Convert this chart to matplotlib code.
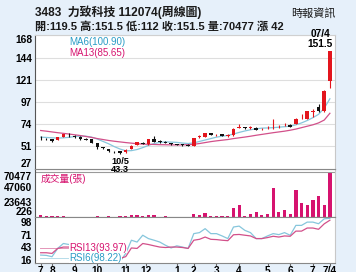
import numpy as np
import matplotlib.pyplot as plt
from matplotlib.lines import Line2D

plt.rcParams['font.family'] = ['Liberation Sans', 'Noto Sans CJK TC', 'DejaVu Sans']

# weekly candles, oldest first, last one is 07/4
opens = [59.5, 58.5, 58.5, 57.2, 61.0, 62.8, 61.5, 61.0, 58.5, 58.2,
         54.0, 49.8, 48.2, 45.2, 45.5, 44.5, 48.2, 52.2, 54.8, 53.0,
         58.5, 56.0, 55.8, 54.2, 52.7, 53.0, 52.6, 51.7, 61.0, 61.0,
         64.4, 62.3, 63.4, 62.0, 62.6, 70.5, 71.0, 70.4, 70.6, 68.6,
         69.8, 71.8, 71.0, 72.8, 73.7, 74.4, 80.3, 79.8, 87.5, 91.9,
         88.0, 119.5]
highs = [62.0, 59.5, 59.0, 61.0, 64.0, 65.0, 62.5, 61.5, 59.5, 58.5,
         54.5, 50.5, 48.5, 45.8, 46.0, 47.8, 52.2, 55.5, 55.5, 59.0,
         61.2, 57.0, 56.3, 54.6, 53.2, 53.4, 53.0, 59.6, 63.0, 65.0,
         65.0, 63.5, 63.8, 64.0, 70.0, 74.0, 71.5, 72.0, 71.0, 70.0,
         72.0, 80.0, 73.0, 75.5, 74.0, 81.0, 85.0, 88.5, 90.0, 95.0,
         110.0, 151.5]
lows = [58.0, 57.5, 55.5, 57.0, 60.5, 61.0, 60.0, 57.8, 57.0, 54.0,
        48.0, 48.5, 45.0, 44.0, 43.3, 44.0, 47.8, 51.8, 53.0, 52.5,
        55.3, 54.8, 54.0, 52.6, 52.0, 51.4, 51.2, 51.3, 60.0, 60.5,
        62.3, 61.8, 61.2, 61.0, 62.2, 70.0, 69.5, 69.5, 67.8, 68.0,
        69.0, 69.5, 70.5, 72.0, 71.2, 74.0, 79.5, 79.5, 82.0, 87.0,
        87.5, 112.0]
closes = [59.2, 58.2, 56.5, 60.6, 63.4, 62.4, 61.0, 58.2, 58.0, 54.8,
          49.7, 49.4, 45.5, 44.8, 44.2, 47.2, 51.7, 55.0, 53.4, 58.5,
          55.8, 55.7, 54.5, 53.0, 52.4, 51.8, 51.6, 59.2, 61.2, 64.4,
          62.8, 62.8, 61.6, 62.3, 69.5, 71.2, 70.0, 70.7, 68.2, 69.0,
          70.1, 72.2, 71.5, 73.1, 71.6, 79.8, 80.7, 87.8, 88.0, 87.8,
          109.5, 151.5]
volume = [2600, 1000, 1000, 2000, 2000, 500, 500, 500, 500, 500,
          1500, 500, 1000, 500, 1000, 1500, 2600, 3100, 1000, 2600,
          3600, 500, 1000, 500, 500, 500, 600, 4200, 3100, 6700,
          1500, 1100, 1500, 1500, 14400, 18600, 1100, 4200, 7700, 3100,
          4200, 45400, 8200, 11300, 5100, 42900, 22100, 18600, 26300, 32500,
          18600, 70477]
ma6 = [60.5, 60.2, 59.8, 59.5, 59.8, 60.3, 61.2, 61.6, 61.5, 60.5,
       58.5, 56.0, 53.5, 50.5, 48.0, 46.2, 46.3, 47.5, 49.5, 51.8,
       53.8, 55.0, 55.5, 55.3, 55.0, 54.3, 53.8, 54.5, 56.0, 57.5,
       59.0, 60.5, 61.5, 62.3, 63.8, 65.5, 67.0, 68.3, 69.3, 70.0,
       70.2, 70.5, 71.0, 71.5, 72.0, 73.5, 75.5, 78.0, 81.0, 84.5,
       91.0, 100.90]
ma13 = [67.5, 66.8, 66.0, 65.2, 64.5, 63.8, 63.0, 62.2, 61.2, 60.2,
        59.0, 58.0, 57.0, 56.2, 55.5, 54.8, 54.2, 53.6, 53.2, 53.0,
        52.8, 52.6, 52.5, 52.4, 52.3, 52.4, 52.6, 53.0, 53.8, 54.8,
        55.8, 56.6, 57.3, 58.0, 59.0, 59.8, 60.6, 61.5, 62.5, 63.4,
        64.3, 65.2, 66.0, 66.8, 67.8, 69.0, 70.5, 72.0, 73.5, 75.5,
        78.5, 85.65]
rsi6 = [17.4, 16.7, 13.8, 32.0, 42.8, 40.6, 38.0, 30.0, 33.0, 25.0,
        18.0, 16.0, 12.0, 10.0, 3.0, 21.0, 50.0, 46.0, 61.0, 53.6,
        50.0, 46.0, 39.0, 33.0, 37.7, 35.0, 32.0, 64.5, 66.7, 75.4,
        64.5, 64.5, 59.4, 53.6, 79.0, 81.0, 71.7, 66.7, 53.6, 53.6,
        59.4, 64.5, 62.3, 66.7, 60.9, 82.6, 82.6, 89.8, 89.8, 86.2,
        97.0, 98.22]
rsi13 = [22.5, 22.5, 21.0, 32.0, 35.0, 35.0, 33.0, 33.0, 30.0, 26.0,
         22.0, 20.0, 17.0, 15.0, 10.0, 14.0, 33.0, 32.0, 42.8, 40.6,
         37.7, 35.0, 34.0, 35.0, 35.0, 34.0, 32.0, 50.0, 52.0, 57.0,
         52.0, 51.4, 50.0, 49.0, 62.0, 62.7, 61.0, 59.4, 53.6, 53.6,
         55.8, 58.7, 57.0, 59.4, 58.7, 70.0, 70.0, 76.8, 76.8, 74.0,
         86.0, 93.97]

month_pos = [0, 2, 6, 10, 15, 18.5, 24, 27, 31, 35, 40, 44, 48, 51]
month_lbl = ['7', '8', '9', '10', '11', '12', '1', '2', '3', '4', '5', '6', '7', '7/4']
price_ticks = [27, 51, 74, 97, 121, 144, 168]
vol_ticks = [226, 23643, 47060, 70477]
rsi_ticks = [16, 43, 71, 98]
low_idx, low_date = 14, '10/5'
last_date = '07/4'

BG = '#e6f0fa'
RED = '#e3151d'
MAG = '#d6136f'
CYAN = '#2a9cc6'
MA6_C = '#86c6dc'
MA13_C = '#d2508a'


def fpos(px, py):
    return px / 356, 1 - py / 272


fig = plt.figure(figsize=(3.56, 2.72), dpi=100, facecolor=BG)
ax1 = fig.add_axes([0.0983, 0.3787, 0.8427, 0.4926])
ax2 = fig.add_axes([0.0983, 0.2022, 0.8427, 0.1765])
ax3 = fig.add_axes([0.0983, 0.0331, 0.8427, 0.1691])
ax1.set_zorder(3)  # low label may spill onto the volume panel

x = np.arange(len(closes))
o, h, l, c = map(np.array, (opens, highs, lows, closes))
cols = [RED if cc >= oo else '#111111' for oo, cc in zip(o, c)]

# price panel
ax1.vlines(x, l, h, color=cols, lw=0.8, zorder=3)
body_lo = np.minimum(o, c)
body_h = np.maximum(np.abs(c - o), 0.5)
ax1.bar(x, body_h, bottom=body_lo, width=0.62, color=cols, lw=0, zorder=4)
ax1.plot(x, ma6, color=MA6_C, lw=0.9, zorder=2)
ax1.plot(x, ma13, color=MA13_C, lw=0.9, zorder=2)
ax1.set_ylim(27, 168)
ax1.set_yticks(price_ticks, [str(t) for t in price_ticks], fontsize=7.3, fontweight='bold')
ax1.grid(axis='y', color='#dedede', lw=0.8)
ax1.annotate(low_date, (low_idx, lows[low_idx]), xytext=(0, -5.6), textcoords='offset points',
             ha='center', va='center', fontsize=6.6, fontweight='bold', annotation_clip=False, zorder=6)
ax1.annotate(f'{lows[low_idx]:g}', (low_idx, lows[low_idx]), xytext=(0, -11.4), textcoords='offset points',
             ha='center', va='center', fontsize=6.6, fontweight='bold', annotation_clip=False, zorder=6)
ax1.annotate(last_date, (x[-1], highs[-1]), xytext=(-7, 12), textcoords='offset points',
             ha='center', va='center', fontsize=7.3, fontweight='bold', annotation_clip=False)
ax1.annotate(f'{highs[-1]:g}', (x[-1], highs[-1]), xytext=(-7, 5), textcoords='offset points',
             ha='center', va='center', fontsize=7.3, fontweight='bold', annotation_clip=False)

# volume panel
ax2.bar(x, volume, width=0.58, color=MAG, lw=0)
ax2.set_ylim(0, 75200)
ax2.set_yticks(vol_ticks, [str(t) for t in vol_ticks], fontsize=7.3, fontweight='bold')
ax2.axhline(vol_ticks[-1], color='#9a9a9a', lw=0.8)
ax2.text(0.02, 0.8, '成交量(張)', transform=ax2.transAxes, color=MAG, fontsize=7, va='center')

# rsi panel
ax3.plot(x, rsi6, color=MA6_C, lw=0.9)
ax3.plot(x, rsi13, color=MA13_C, lw=0.9)
ax3.set_ylim(0, 101)
ax3.set_yticks(rsi_ticks, [str(t) for t in rsi_ticks], fontsize=7.3, fontweight='bold')
ax3.set_xticks(month_pos, month_lbl, fontsize=7.3, fontweight='bold')
ax3.tick_params(axis='x', length=2, pad=0.5, color='#666666')

for ax in (ax1, ax2, ax3):
    ax.set_xlim(-1.0, 51.9)
    ax.set_facecolor('white')
    ax.tick_params(axis='y', length=0, pad=2)
    ax.spines['left'].set_color('#555555')
    ax.spines['right'].set_color('#c8c8c8')
    ax.spines['top'].set_color('#888888')
    ax.spines['bottom'].set_color('#888888')
    for s in ax.spines.values():
        s.set_linewidth(0.8)
ax1.spines['top'].set_color('#d0d0d0')
for ax in (ax1, ax2):
    ax.tick_params(axis='x', length=0, labelbottom=False)

# keep edge labels inside their own panel
for ax in (ax1, ax2):
    labs = ax.get_yticklabels()
    labs[0].set_va('bottom')
    labs[-1].set_va('top')
for lab in ax3.get_yticklabels():
    lab.set_va('top')

# legends
legend_items = [
    (42, f'MA6({ma6[-1]:.2f})', CYAN, MA6_C),
    (52.5, f'MA13({ma13[-1]:.2f})', MAG, MA13_C),
    (248, f'RSI13({rsi13[-1]:.2f})', MAG, MA13_C),
    (258, f'RSI6({rsi6[-1]:.2f})', CYAN, MA6_C),
]
for py, txt, tc, lc in legend_items:
    x0, y0 = fpos(40, py)
    x1, _ = fpos(68, py)
    fig.add_artist(Line2D([x0, x1], [y0, y0], color=lc, lw=0.7, alpha=0.6))
    fig.text(*fpos(69, py), txt, color=tc, fontsize=7, va='center',
             bbox=dict(facecolor='white', edgecolor='none', pad=0.3))

# header
fig.text(*fpos(35, 12), '3483  力致科技 112074(周線圖)', fontsize=8.6, fontweight='bold', va='center', color='#1a1a1a')
head = (f'開:{opens[-1]:g} 高:{highs[-1]:g} 低:{lows[-1]:g} 收:{closes[-1]:g} '
        f'量:{volume[-1]} 漲 {closes[-1] - closes[-2]:g}')
fig.text(*fpos(35, 26), head, fontsize=8.0, fontweight='bold', va='center', color='#1a1a1a')
fig.text(*fpos(336, 13), '時報資訊', fontsize=8, ha='right', va='center', color='#1a1a1a')

fig.savefig('out.png', dpi=100, facecolor=BG)
